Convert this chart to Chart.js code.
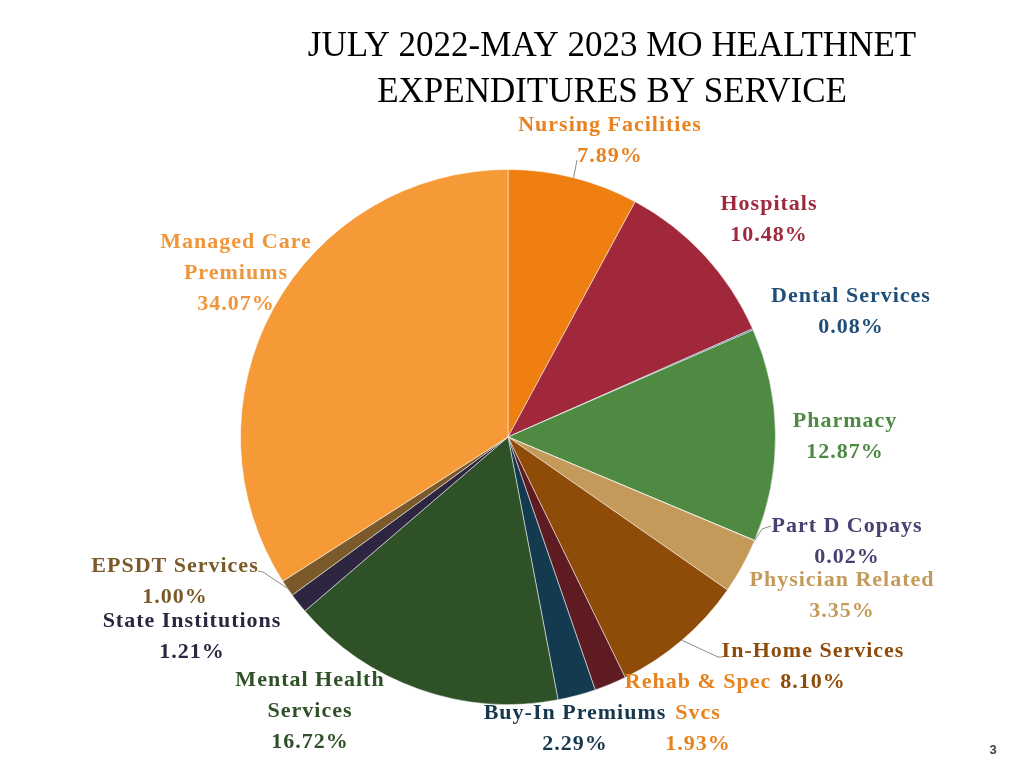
<!DOCTYPE html>
<html>
<head>
<meta charset="utf-8">
<title>MO HealthNet Expenditures by Service</title>
<script src="https://cdn.jsdelivr.net/npm/chart.js@4"></script>
<style>
  html, body { margin: 0; padding: 0; background: #fff; }
  #chart { display: block; }
</style>
</head>
<body>
<canvas id="chart" width="1024" height="768"></canvas>
<script>
// Services, clockwise from 12 o'clock
const services = [
  'Nursing Facilities', 'Hospitals', 'Dental Services', 'Pharmacy',
  'Part D Copays', 'Physician Related', 'In-Home Services', 'Rehab & Spec\nSvcs',
  'Buy-In Premiums', 'Mental Health\nServices', 'State Institutions',
  'EPSDT Services', 'Managed Care\nPremiums'
]
// Share of expenditures, percent
const shares = [7.89, 10.48, 0.08, 12.87, 0.02, 3.35, 8.10, 1.93, 2.29, 16.72, 1.21, 1.00, 34.07]

const titleLines = ['JULY 2022-MAY 2023 MO HEALTHNET', 'EXPENDITURES BY SERVICE']
const pageNumber = '3'

const sliceColors = [
  '#ef7f11', '#a0283a', '#1f5a85', '#4f8a43', '#5b4b8a', '#c49a5a', '#8f4b08',
  '#5e1b22', '#133a4e', '#2f5128', '#2e2540', '#7a5a2a', '#f59a37'
]
const textColors = [
  '#e8821e', '#9e2a3c', '#1f4e79', '#4e8a44', '#4b3f72', '#c49a5a', '#8e4b0a',
  '#e8821e', '#16384e', '#2f5128', '#2e2540', '#7a5a2a', '#f0963a'
]

// where each label sits: centre x, y of first line, optional leader start points
const labelSpots = [
  { x: 610, y: 125, lead: [[577, 160]] },
  { x: 769, y: 204 },
  { x: 851, y: 296 },
  { x: 845, y: 421 },
  { x: 847, y: 526, lead: [[771, 526], [762, 529]] },
  { x: 842, y: 580 },
  { x: 813, y: 651, lead: [[722, 657], [718, 657]] },
  { x: 698, y: 682 },
  { x: 575, y: 713 },
  { x: 310, y: 680 },
  { x: 192, y: 621 },
  { x: 175, y: 566, lead: [[258, 571], [263, 572]] },
  { x: 236, y: 242 }
]

const labelFont = 'bold 22px "Liberation Serif", "Times New Roman", serif'
const lineGap = 31

const labelPlugin = {
  id: 'sliceLabels',
  afterDatasetsDraw(chart) {
    const ctx = chart.ctx
    const arcs = chart.getDatasetMeta(0).data
    ctx.save()

    // leader lines to the outer edge of the slice
    ctx.strokeStyle = '#8c8c8c'
    ctx.lineWidth = 1
    labelSpots.forEach((spot, i) => {
      if (!spot.lead) return
      const arc = arcs[i]
      const mid = (arc.startAngle + arc.endAngle) / 2
      const ex = arc.x + Math.cos(mid) * arc.outerRadius
      const ey = arc.y + Math.sin(mid) * arc.outerRadius
      ctx.beginPath()
      ctx.moveTo(spot.lead[0][0], spot.lead[0][1])
      spot.lead.slice(1).forEach(p => ctx.lineTo(p[0], p[1]))
      ctx.lineTo(ex, ey)
      ctx.stroke()
    })

    ctx.font = labelFont
    ctx.letterSpacing = '1px'
    ctx.textAlign = 'center'
    ctx.textBaseline = 'middle'
    labelSpots.forEach((spot, i) => {
      const lines = services[i].split('\n')
      lines.push(shares[i].toFixed(2) + '%')
      ctx.fillStyle = textColors[i]
      lines.forEach((line, j) => {
        ctx.fillText(line, spot.x, spot.y + j * lineGap)
      })
    })

    // title
    ctx.fillStyle = '#000'
    ctx.letterSpacing = '0px'
    ctx.font = '35px "Liberation Serif", "Times New Roman", serif'
    titleLines.forEach((line, j) => ctx.fillText(line, 612, 47 + j * 46))

    ctx.fillStyle = '#444'
    ctx.font = 'bold 13px "Liberation Sans", Arial, sans-serif'
    ctx.fillText(pageNumber, 993, 750)
    ctx.restore()
  }
}

new Chart(document.getElementById('chart'), {
  type: 'pie',
  data: {
    labels: services,
    datasets: [{
      data: shares,
      backgroundColor: sliceColors,
      borderColor: 'rgba(255,255,255,0.5)',
      borderWidth: 1
    }]
  },
  options: {
    responsive: false,
    animation: false,
    devicePixelRatio: 1,
    layout: { padding: { left: 240, right: 248, top: 169, bottom: 63 } },
    plugins: {
      legend: { display: false },
      tooltip: { enabled: false }
    }
  },
  plugins: [labelPlugin]
})
</script>
</body>
</html>
